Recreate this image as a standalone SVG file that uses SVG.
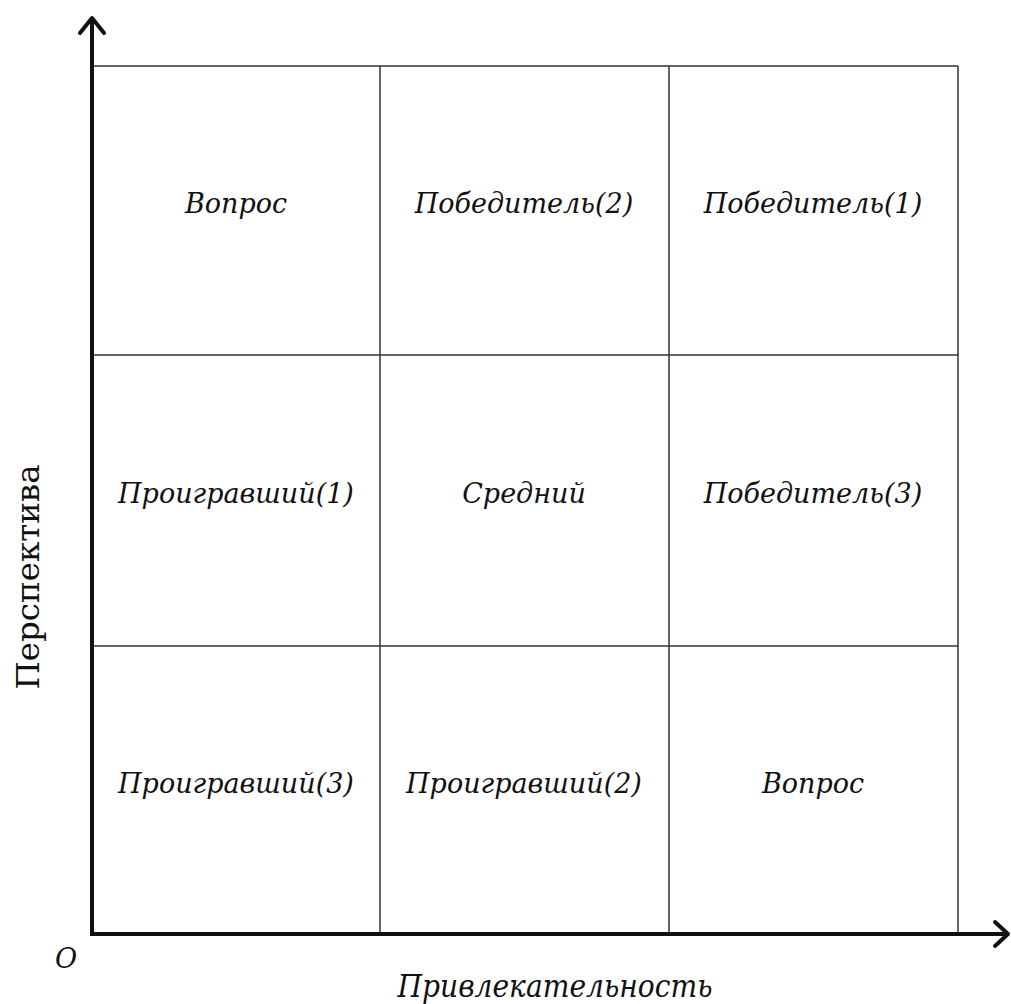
<svg xmlns="http://www.w3.org/2000/svg" width="1011" height="1004" viewBox="0 0 1011 1004">
<style>
.grid{stroke:#333;stroke-width:1.5;fill:none}
.axis{stroke:#111;stroke-width:4;fill:none}
.head{stroke:#111;stroke-width:4;fill:none;stroke-linecap:round;stroke-linejoin:round}
.cell{font-family:"DejaVu Serif","Liberation Serif",serif;font-style:italic;font-size:27px;fill:#111;text-anchor:middle}
.lab{font-family:"DejaVu Serif","Liberation Serif",serif;font-size:32px;fill:#111;text-anchor:middle}
</style>
<rect width="1011" height="1004" fill="#fff"/>
<g id="grid">
<line class="grid" x1="92" y1="66" x2="958" y2="66"/>
<line class="grid" x1="92" y1="355" x2="958" y2="355"/>
<line class="grid" x1="92" y1="646" x2="958" y2="646"/>
<line class="grid" x1="380" y1="66" x2="380" y2="934"/>
<line class="grid" x1="669" y1="66" x2="669" y2="934"/>
<line class="grid" x1="958" y1="66" x2="958" y2="934"/>
</g>
<g id="connectors">
<line class="axis" x1="92" y1="935" x2="92" y2="20"/>
<polyline class="head" points="80,33 92,18 104,33"/>
<line class="axis" x1="90" y1="934" x2="1006" y2="934"/>
<polyline class="head" points="995,922 1008,934 995,946"/>
</g>
<g id="n1"><text class="cell" x="236" y="213">Вопрос</text></g>
<g id="n2"><text class="cell" x="524" y="213">Победитель(2)</text></g>
<g id="n3"><text class="cell" x="813" y="213">Победитель(1)</text></g>
<g id="n4"><text class="cell" x="236" y="503">Проигравший(1)</text></g>
<g id="n5"><text class="cell" x="524" y="503">Средний</text></g>
<g id="n6"><text class="cell" x="813" y="503">Победитель(3)</text></g>
<g id="n7"><text class="cell" x="236" y="793">Проигравший(3)</text></g>
<g id="n8"><text class="cell" x="524" y="793">Проигравший(2)</text></g>
<g id="n9"><text class="cell" x="813" y="793">Вопрос</text></g>
<g id="labels">
<text class="lab" transform="translate(39,577) rotate(-90)" font-size="34" textLength="225" lengthAdjust="spacingAndGlyphs">Перспектива</text>
<text class="lab" x="555" y="997" font-style="italic" font-size="29" textLength="315" lengthAdjust="spacingAndGlyphs">Привлекательность</text>
<text class="cell" x="66" y="968" font-size="26">O</text>
</g>
</svg>
